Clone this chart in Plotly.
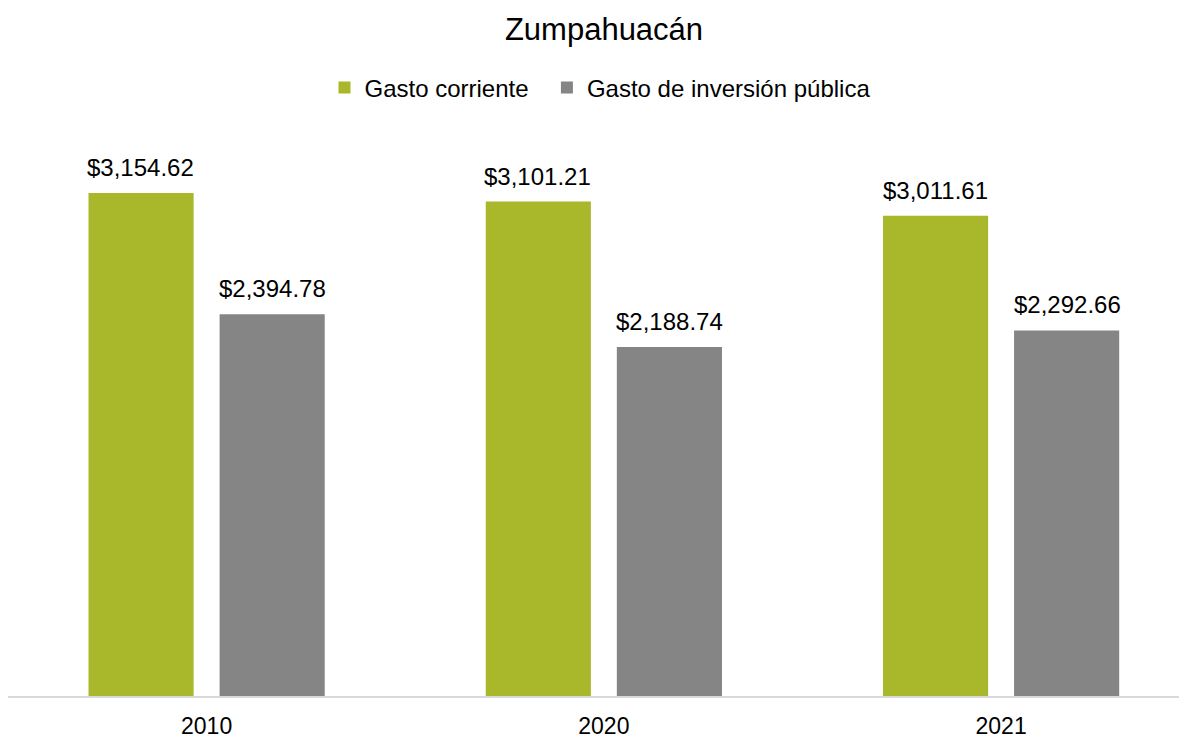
import plotly.graph_objects as go

# data
years = ["2010", "2020", "2021"]
gasto_corriente = [3154.62, 3101.21, 3011.61]
gasto_inversion = [2394.78, 2188.74, 2292.66]

green = "#A8B82A"
grey = "#858585"
font_family = "Liberation Sans, Arial, sans-serif"

# page body has an 8px margin, so the figure is drawn 8px smaller
W, H = 1179, 731

fig = go.Figure()
# two no-break spaces widen the gap between the legend entries
fig.add_trace(go.Bar(x=years, y=gasto_corriente, name="Gasto corriente\u00a0\u00a0",
                     marker=dict(color=green, line=dict(width=0))))
fig.add_trace(go.Bar(x=years, y=gasto_inversion, name="Gasto de inversión pública",
                     marker=dict(color=grey, line=dict(width=0))))

# value labels above each bar (x as category index)
for vals, shift in [(gasto_corriente, -66), (gasto_inversion, 66)]:
    for i, v in enumerate(vals):
        fig.add_annotation(x=i, y=v, text=f"${v:,.2f}", showarrow=False,
                           xshift=shift, yshift=10, yanchor="bottom",
                           font=dict(size=24, color="#000000", family=font_family))

fig.update_layout(
    width=W, height=H,
    paper_bgcolor="white", plot_bgcolor="white",
    font=dict(family=font_family, color="#000000"),
    title=dict(text="Zumpahuacán", x=596 / W, xanchor="center",
               yref="container", y=1 - 21 / H, yanchor="middle",
               font=dict(size=31, color="#000000")),
    legend=dict(orientation="h", xref="container", x=592 / W, xanchor="center",
                yref="container", y=1 - 80 / H, yanchor="middle",
                font=dict(size=24, color="#000000"), itemwidth=30),
    barmode="group", bargap=0.34, bargroupgap=0.198,
    margin=dict(l=0, r=0, t=130, b=41),
    xaxis=dict(type="category", range=[-0.5, 2.468], showline=True,
               linecolor="#D9D9D9", linewidth=2, ticks="", ticklabelstandoff=8,
               tickfont=dict(size=23, color="#000000"), showgrid=False),
    yaxis=dict(range=[0, 3500], visible=False, showgrid=False, zeroline=False),
)

fig.write_html("out.html")
